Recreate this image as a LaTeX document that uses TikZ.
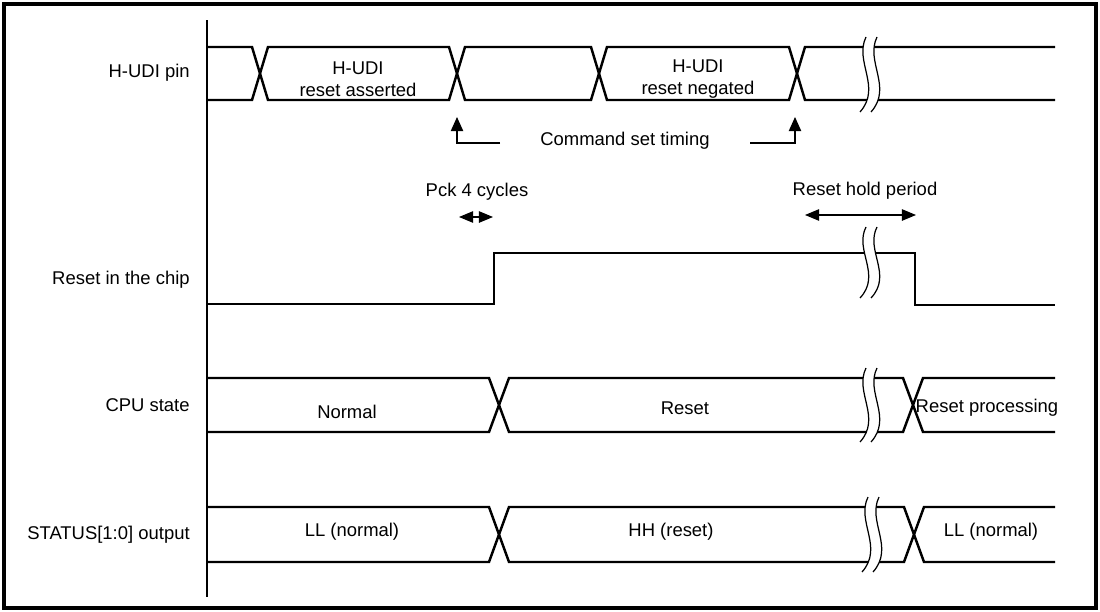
\documentclass[tikz,border=0pt]{standalone}
\usepackage{fontspec}
\setmainfont{Liberation Sans}
\usetikzlibrary{arrows.meta}
\tikzset{
  wave/.style={line width=1.4pt,line join=miter},
  txt/.style={font=\fontsize{10.5}{12.6}\selectfont,inner sep=0pt,align=center},
  tip/.style={line width=0.7pt,-{Triangle[length=8pt,width=7pt]}},
  tips/.style={line width=0.7pt,{Triangle[length=8pt,width=6.5pt]}-{Triangle[length=8pt,width=6.5pt]}}
}
\newcommand{\wbreak}[3]{%
  \fill[white] (#1,#2) .. controls ({#1-12},{#2+0.33*(#3-#2)}) and ({#1+16},{#2+0.67*(#3-#2)}) .. ({#1-6},#3)
    -- ({#1+5},#3) .. controls ({#1+27},{#2+0.67*(#3-#2)}) and ({#1-1},{#2+0.33*(#3-#2)}) .. ({#1+11},#2) -- cycle;
  \draw[line width=0.7pt] (#1,#2) .. controls ({#1-12},{#2+0.33*(#3-#2)}) and ({#1+16},{#2+0.67*(#3-#2)}) .. ({#1-6},#3);
  \draw[line width=0.7pt] ({#1+11},#2) .. controls ({#1-1},{#2+0.33*(#3-#2)}) and ({#1+27},{#2+0.67*(#3-#2)}) .. ({#1+5},#3);
}
\begin{document}
\begin{tikzpicture}[x=0.02cm,y=-0.02cm]
\useasboundingbox (0,0) rectangle (1100,612);
\draw[line width=2pt] (4,4) rectangle (1096,608);
\draw[line width=0.7pt] (207,20) -- (207,597);
% signal names
\node[txt,anchor=east] (pin) at (190,73) {H-UDI pin};
\node[txt,anchor=east] (rst) at (190,280) {Reset in the chip};
\node[txt,anchor=east] (cpu) at (190,405) {CPU state};
\node[txt,anchor=east] (sts) at (190,535) {STATUS[1:0] output};
% H-UDI pin
\draw[wave] (207,47) -- (252,47) -- (268,100) -- (449,100) -- (465,47) -- (591,47) -- (607,100) -- (789,100) -- (805,47) -- (1055,47);
\draw[wave] (207,100) -- (252,100) -- (268,47) -- (449,47) -- (465,100) -- (591,100) -- (607,47) -- (789,47) -- (805,100) -- (1055,100);
\node[txt] (asrt) at (358,79) {H-UDI\\reset asserted};
\node[txt] (negt) at (698,79) {H-UDI\\reset negated};
\wbreak{866}{37}{112}
% command timing
\node[txt] (cmd) at (625,141) {Command set timing};
\coordinate (c1) at (500,143);
\coordinate (c2) at (457,117);
\coordinate (c3) at (750,143);
\coordinate (c4) at (795,117);
\draw[tip] (c1) -| (c2);
\draw[tip] (c3) -| (c4);
% reset in the chip
\draw[wave] (207,304) -- (494,304) -- (494,253) -- (915,253) -- (915,305) -- (1055,305);
\wbreak{866}{227}{298}
\node[txt] (pck) at (477,192) {Pck 4 cycles};
\coordinate (p1) at (459,217);
\coordinate (p2) at (493,217);
\draw[tips] (p1) -- (p2);
\node[txt] (hold) at (865,191) {Reset hold period};
\coordinate (h1) at (805,215);
\coordinate (h2) at (916,215);
\draw[tips] (h1) -- (h2);
% CPU state
\draw[wave] (207,378) -- (489,378) -- (509,432) -- (903,432) -- (923,378) -- (1055,378);
\draw[wave] (207,432) -- (489,432) -- (509,378) -- (903,378) -- (923,432) -- (1055,432);
\wbreak{866}{368}{442}
\node[txt] (nrm) at (347,412) {Normal};
\node[txt] (rs) at (685,408) {Reset};
\node[txt] (rsp) at (987,408) {Reset processing};
% STATUS output
\draw[wave] (207,507) -- (489,507) -- (509,562) -- (904,562) -- (924,507) -- (1055,507);
\draw[wave] (207,562) -- (489,562) -- (509,507) -- (904,507) -- (924,562) -- (1055,562);
\wbreak{868}{497}{572}
\node[txt] (ll1) at (352,532) {LL (normal)};
\node[txt] (hh) at (671,532) {HH (reset)};
\node[txt] (ll2) at (991,532) {LL (normal)};
\end{tikzpicture}
\end{document}
